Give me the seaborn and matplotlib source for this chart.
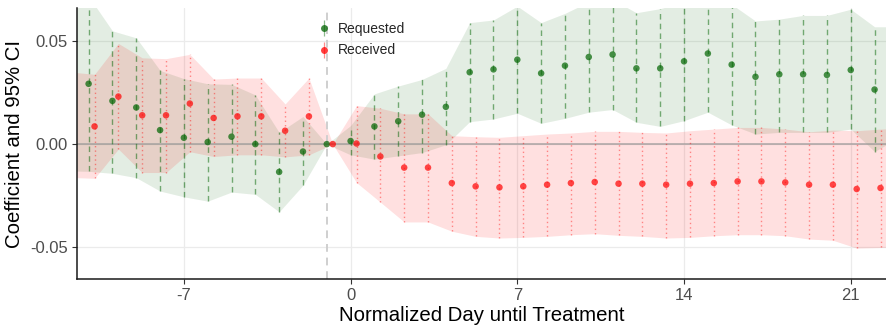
import numpy as np
import pandas as pd
import matplotlib
matplotlib.use("Agg")
import matplotlib.pyplot as plt
import seaborn as sns
from matplotlib.lines import Line2D
from matplotlib.legend_handler import HandlerTuple

# Event-study estimates by normalized day (day -1 is the reference period).
# Days -12 and 23 lie just outside the plotted window; they only shape the band edges.
days = list(range(-12, 24))

requested_est = [0.0300, 0.0293, 0.0210, 0.0178, 0.0068, 0.0031, 0.0010, 0.0036, 0.0000,
                 -0.0135, -0.0036, 0.0000, 0.0015, 0.0086, 0.0111, 0.0143, 0.0181, 0.0349,
                 0.0363, 0.0410, 0.0344, 0.0381, 0.0423, 0.0435, 0.0368, 0.0368, 0.0402,
                 0.0440, 0.0386, 0.0327, 0.0339, 0.0339, 0.0336, 0.0360, 0.0265, 0.0300]
requested_lo = [-0.0130, -0.0132, -0.0142, -0.0163, -0.0228, -0.0256, -0.0277, -0.0233,
                -0.0244, -0.0329, -0.0200, 0.0000, -0.0052, -0.0073, -0.0057, -0.0041,
                -0.0003, 0.0109, 0.0122, 0.0150, 0.0101, 0.0125, 0.0155, 0.0168, 0.0106,
                0.0086, 0.0114, 0.0155, 0.0093, 0.0049, 0.0057, 0.0057, 0.0057, 0.0073,
                -0.0036, 0.0030]
requested_hi = [0.0750, 0.0718, 0.0550, 0.0516, 0.0358, 0.0318, 0.0293, 0.0290, 0.0239,
                0.0057, 0.0134, 0.0000, 0.0090, 0.0244, 0.0282, 0.0314, 0.0368, 0.0590,
                0.0603, 0.0670, 0.0590, 0.0635, 0.0691, 0.0702, 0.0638, 0.0658, 0.0690,
                0.0725, 0.0679, 0.0598, 0.0607, 0.0625, 0.0625, 0.0655, 0.0570, 0.0570]

received_est = [0.0090, 0.0086, 0.0231, 0.0140, 0.0140, 0.0197, 0.0127, 0.0135, 0.0135,
                0.0065, 0.0135, 0.0000, 0.0003, -0.0060, -0.0114, -0.0114, -0.0189, -0.0205,
                -0.0210, -0.0205, -0.0197, -0.0189, -0.0184, -0.0192, -0.0192, -0.0197,
                -0.0192, -0.0189, -0.0181, -0.0181, -0.0186, -0.0197, -0.0197, -0.0218,
                -0.0213, -0.0210]
received_lo = [-0.0162, -0.0166, -0.0024, -0.0138, -0.0138, -0.0037, -0.0060, -0.0052,
               -0.0052, -0.0062, -0.0052, 0.0000, -0.0187, -0.0282, -0.0378, -0.0378,
               -0.0423, -0.0448, -0.0456, -0.0453, -0.0448, -0.0440, -0.0435, -0.0443,
               -0.0448, -0.0456, -0.0453, -0.0445, -0.0440, -0.0440, -0.0445, -0.0461,
               -0.0467, -0.0505, -0.0502, -0.0500]
received_hi = [0.0350, 0.0339, 0.0489, 0.0419, 0.0415, 0.0436, 0.0316, 0.0321, 0.0321,
               0.0195, 0.0321, 0.0000, 0.0187, 0.0174, 0.0147, 0.0147, 0.0041, 0.0036,
               0.0033, 0.0041, 0.0049, 0.0054, 0.0062, 0.0062, 0.0057, 0.0054, 0.0065,
               0.0073, 0.0081, 0.0081, 0.0073, 0.0060, 0.0068, 0.0065, 0.0073, 0.0078]

series_names = ["Requested", "Received"]
x_ticks = [-7, 0, 7, 14, 21]
y_ticks = [-0.05, 0.00, 0.05]
y_tick_labels = ["-0.05", "0.00", "0.05"]

GREEN = "#006400"
RED = "#FF0000"
palette = {"Requested": GREEN, "Received": RED}
offsets = {"Requested": 0.0, "Received": 0.25}

frames = []
for name, est, lo, hi in [("Requested", requested_est, requested_lo, requested_hi),
                          ("Received", received_est, received_lo, received_hi)]:
    frames.append(pd.DataFrame({
        "day": np.array(days, dtype=float) + offsets[name],
        "est": est, "lo": lo, "hi": hi, "series": name,
    }))
df = pd.concat(frames, ignore_index=True)

sns.set_theme(style="whitegrid")
plt.rcParams["font.family"] = ["Liberation Sans", "DejaVu Sans"]

fig, ax = plt.subplots(figsize=(8.87, 3.25), dpi=100)
fig.subplots_adjust(left=76.7 / 887, right=886 / 887, bottom=1 - 279 / 325, top=1 - 8 / 325)

band_alpha = {"Requested": 0.11, "Received": 0.12}
line_style = {"Requested": (0, (4, 3)), "Received": (0, (1, 2.2))}
line_alpha = {"Requested": 0.5, "Received": 0.42}

for name in series_names:
    d = df[df.series == name]
    ax.fill_between(d.day, d.lo, d.hi, color=palette[name], alpha=band_alpha[name],
                    linewidth=0, zorder=1)

ax.axhline(0, color="#9a9a9a", lw=1.3, alpha=0.7, zorder=2)
ax.axvline(-1, color="#cfcfcf", lw=1.4, ls=(0, (4, 3)), zorder=2)

for name in series_names:
    d = df[df.series == name]
    ax.vlines(d.day, d.lo, d.hi, colors=palette[name], alpha=line_alpha[name],
              linestyles=[line_style[name]], linewidth=1.0, zorder=3)

sns.scatterplot(data=df, x="day", y="est", hue="series", palette=palette,
                hue_order=series_names, s=22, alpha=0.7, linewidth=0,
                legend=False, ax=ax, zorder=4)

ax.set_xlim(-11.5, 22.48)
ax.set_ylim(-0.0655, 0.0661)
ax.set_xticks(x_ticks)
ax.set_xticklabels([str(t) for t in x_ticks])
ax.set_yticks(y_ticks)
ax.set_yticklabels(y_tick_labels)

ax.grid(True, color="#ebebeb", linewidth=0.9)
ax.set_axisbelow(True)
for side in ["top", "right"]:
    ax.spines[side].set_visible(False)
for side in ["left", "bottom"]:
    ax.spines[side].set_visible(True)
    ax.spines[side].set_color("#1a1a1a")
    ax.spines[side].set_linewidth(1.1)

ax.tick_params(axis="both", which="major", length=3.5, width=0.8, color="#333333",
               labelsize=12, labelcolor="#4d4d4d", pad=3, left=True, bottom=True)
ax.set_xlabel("Normalized Day until Treatment", fontsize=14.7, color="black", labelpad=2)
ax.set_ylabel("Coefficient and 95% CI", fontsize=14.7, color="black", labelpad=4)

handles = []
for name in series_names:
    bar = Line2D([], [], color=palette[name], marker="|", markersize=12, mew=0.9,
                 linestyle="None", alpha=0.45)
    dot = Line2D([], [], color=palette[name], marker="o", markersize=5, mew=0,
                 linestyle="None", alpha=0.75)
    handles.append((bar, dot))
ax.legend(handles, series_names, handler_map={tuple: HandlerTuple(ndivide=1)},
          loc="upper left", bbox_to_anchor=(0.285, 0.985), frameon=False, fontsize=10,
          handlelength=1.0, handletextpad=0.5, labelspacing=0.55, borderaxespad=0.3)

fig.savefig("out.png", dpi=100)
